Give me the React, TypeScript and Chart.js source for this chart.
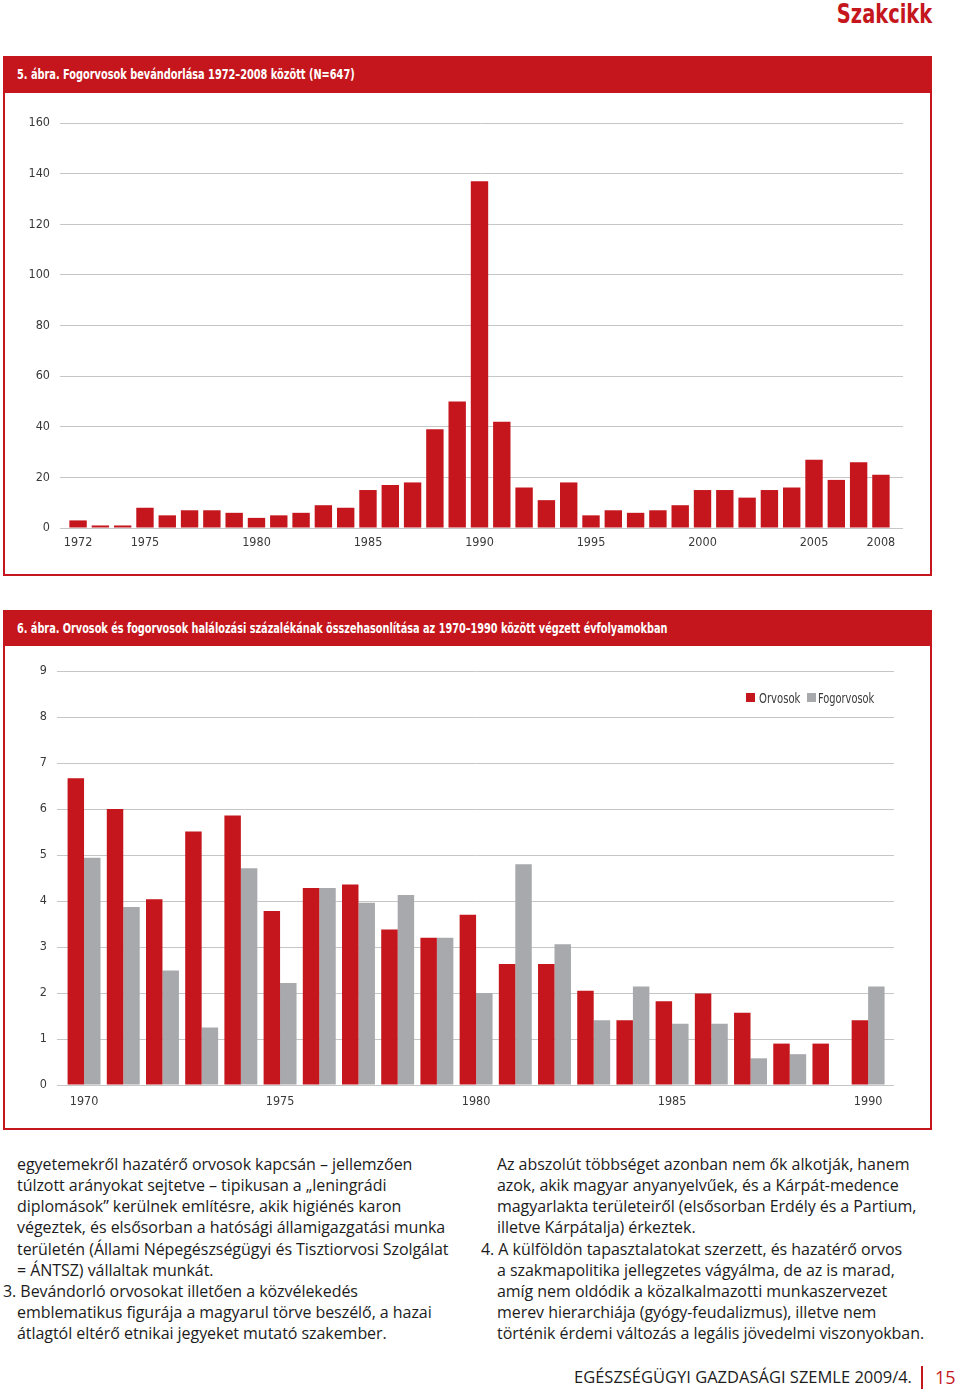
import React, { useEffect, useRef } from "react";
import { Chart, registerables } from "chart.js";

Chart.register(...registerables);

const RED = "#c4161c";
const GREY = "#a7a9ac";
const GRID = "#c6c6c6";
const TICK_COLOR = "#3a3a3a";
const NARROW = '"Liberation Sans Narrow", "DejaVu Sans Condensed", sans-serif';
const BODY = '"Open Sans", "Noto Sans", sans-serif';

// ---- 5. ábra data ----
const immigrationYears = [
  1972, 1973, 1974, 1975, 1976, 1977, 1978, 1979, 1980, 1981, 1982, 1983, 1984,
  1985, 1986, 1987, 1988, 1989, 1990, 1991, 1992, 1993, 1994, 1995, 1996, 1997,
  1998, 1999, 2000, 2001, 2002, 2003, 2004, 2005, 2006, 2007, 2008,
];
const immigrationCounts = [
  3, 1, 1, 8, 5, 7, 7, 6, 4, 5, 6, 9, 8, 15, 17, 18, 39, 50, 137, 42, 16, 11,
  18, 5, 7, 6, 7, 9, 15, 15, 12, 15, 16, 27, 19, 26, 21,
];
const immigrationYearTicks = [1972, 1975, 1980, 1985, 1990, 1995, 2000, 2005, 2008];
const immigrationValueTicks = [0, 20, 40, 60, 80, 100, 120, 140, 160];

// ---- 6. ábra data ----
const cohortYears = [
  1970, 1971, 1972, 1973, 1974, 1975, 1976, 1977, 1978, 1979, 1980, 1981, 1982,
  1983, 1984, 1985, 1986, 1987, 1988, 1989, 1990,
];
const orvosokPct = [
  6.67, 6.0, 4.04, 5.51, 5.86, 3.78, 4.28, 4.36, 3.38, 3.2, 3.7, 2.63, 2.63,
  2.05, 1.41, 1.82, 1.99, 1.57, 0.9, 0.9, 1.41,
];
const fogorvosokPct = [
  4.94, 3.87, 2.49, 1.25, 4.71, 2.22, 4.28, 3.96, 4.13, 3.2, 2.0, 4.8, 3.06,
  1.41, 2.14, 1.33, 1.33, 0.58, 0.67, 0, 2.14,
];
const cohortYearTicks = [1970, 1975, 1980, 1985, 1990];
const cohortValueTicks = [0, 1, 2, 3, 4, 5, 6, 7, 8, 9];

const tickFont = { family: NARROW, size: 12.5 };

function makeImmigrationConfig(): any {
  return {
    type: "bar",
    data: {
      datasets: [
        {
          label: "Fogorvosok",
          data: immigrationYears.map((y, i) => ({ x: y, y: immigrationCounts[i] })),
          backgroundColor: RED,
          borderWidth: 0,
          categoryPercentage: 1,
          barPercentage: 0.78,
        },
      ],
    },
    options: {
      animation: false,
      responsive: false,
      maintainAspectRatio: false,
      layout: { padding: { top: 27, right: 27, left: 0, bottom: 0 } },
      plugins: { legend: { display: false }, tooltip: { enabled: false } },
      scales: {
        x: {
          type: "linear",
          offset: false,
          min: 1971.19,
          max: 2008.99,
          grid: { display: false, drawTicks: false },
          border: { display: false },
          afterBuildTicks: (s: any) => {
            s.ticks = immigrationYearTicks.map((v) => ({ value: v }));
          },
          afterFit: (s: any) => {
            s.height = 44;
          },
          ticks: {
            autoSkip: false,
            maxRotation: 0,
            padding: 7,
            font: tickFont,
            color: TICK_COLOR,
            callback: (v: any) => String(v),
          },
        },
        y: {
          min: 0,
          max: 160,
          grid: { color: GRID, drawTicks: false, lineWidth: 1 },
          border: { display: false },
          afterBuildTicks: (s: any) => {
            s.ticks = immigrationValueTicks.map((v) => ({ value: v }));
          },
          afterFit: (s: any) => {
            s.width = 56;
          },
          ticks: {
            padding: 10,
            font: tickFont,
            color: TICK_COLOR,
            callback: (v: any) => String(v),
          },
        },
      },
    },
  };
}

function makeCohortConfig(): any {
  return {
    type: "bar",
    data: {
      datasets: [
        {
          label: "Orvosok",
          data: cohortYears.map((y, i) => ({ x: y, y: orvosokPct[i] })),
          backgroundColor: RED,
          borderWidth: 0,
          categoryPercentage: 0.84,
          barPercentage: 1,
        },
        {
          label: "Fogorvosok",
          data: cohortYears.map((y, i) => ({ x: y, y: fogorvosokPct[i] })),
          backgroundColor: GREY,
          borderWidth: 0,
          categoryPercentage: 0.84,
          barPercentage: 1,
        },
      ],
    },
    options: {
      animation: false,
      responsive: false,
      maintainAspectRatio: false,
      layout: { padding: { top: 21, right: 36, left: 0, bottom: 0 } },
      plugins: { legend: { display: false }, tooltip: { enabled: false } },
      scales: {
        x: {
          type: "linear",
          offset: false,
          min: 1969.31,
          max: 1990.66,
          grid: { display: false, drawTicks: false },
          border: { display: false },
          afterBuildTicks: (s: any) => {
            s.ticks = cohortYearTicks.map((v) => ({ value: v }));
          },
          afterFit: (s: any) => {
            s.height = 39;
          },
          ticks: {
            autoSkip: false,
            maxRotation: 0,
            padding: 9,
            font: tickFont,
            color: TICK_COLOR,
            callback: (v: any) => String(v),
          },
        },
        y: {
          min: 0,
          max: 9,
          grid: { color: GRID, drawTicks: false, lineWidth: 1 },
          border: { display: false },
          afterBuildTicks: (s: any) => {
            s.ticks = cohortValueTicks.map((v) => ({ value: v }));
          },
          afterFit: (s: any) => {
            s.width = 53;
          },
          ticks: {
            padding: 10,
            font: tickFont,
            color: TICK_COLOR,
            callback: (v: any) => String(v),
          },
        },
      },
    },
  };
}

function ChartCanvas(props: { left: number; top: number; width: number; height: number; make: () => any }) {
  const ref = useRef<HTMLCanvasElement | null>(null);
  useEffect(() => {
    if (!ref.current) return;
    const chart = new Chart(ref.current, props.make());
    return () => chart.destroy();
  }, []);
  return (
    <canvas
      ref={ref}
      width={props.width}
      height={props.height}
      style={{ position: "absolute", left: props.left, top: props.top, width: props.width, height: props.height }}
    />
  );
}

const leftLines: { text: string; x: number }[] = [
  { text: "egyetemekről hazatérő orvosok kapcsán – jellemzően", x: 17 },
  { text: "túlzott arányokat sejtetve – tipikusan a „leningrádi", x: 17 },
  { text: "diplomások” kerülnek említésre, akik higiénés karon", x: 17 },
  { text: "végeztek, és elsősorban a hatósági államigazgatási munka", x: 17 },
  { text: "területén (Állami Népegészségügyi és Tisztiorvosi Szolgálat", x: 17 },
  { text: "= ÁNTSZ) vállaltak munkát.", x: 17 },
  { text: "3. Bevándorló orvosokat illetően a közvélekedés", x: 3 },
  { text: "emblematikus figurája a magyarul törve beszélő, a hazai", x: 17 },
  { text: "átlagtól eltérő etnikai jegyeket mutató szakember.", x: 17 },
];
const rightLines: { text: string; x: number }[] = [
  { text: "Az abszolút többséget azonban nem ők alkotják, hanem", x: 497 },
  { text: "azok, akik magyar anyanyelvűek, és a Kárpát-medence", x: 497 },
  { text: "magyarlakta területeiről (elsősorban Erdély és a Partium,", x: 497 },
  { text: "illetve Kárpátalja) érkeztek.", x: 497 },
  { text: "4. A külföldön tapasztalatokat szerzett, és hazatérő orvos", x: 481 },
  { text: "a szakmapolitika jellegzetes vágyálma, de az is marad,", x: 497 },
  { text: "amíg nem oldódik a közalkalmazotti munkaszervezet", x: 497 },
  { text: "merev hierarchiája (gyógy-feudalizmus), illetve nem", x: 497 },
  { text: "történik érdemi változás a legális jövedelmi viszonyokban.", x: 497 },
];

const LINE_TOP = 1154;
const LINE_H = 21.15;

function TextLine({ text, x, y }: { text: string; x: number; y: number }) {
  return (
    <div
      style={{
        position: "absolute",
        left: x,
        top: y,
        height: LINE_H,
        lineHeight: LINE_H + "px",
        whiteSpace: "nowrap",
        fontFamily: BODY,
        fontSize: 16,
        letterSpacing: -0.05,
        color: "#1c1c1c",
      }}
    >
      {text}
    </div>
  );
}

const squeeze = (s: number, origin = "left center"): React.CSSProperties => ({
  transform: `scaleX(${s})`,
  transformOrigin: origin,
});

export default function App() {
  return (
    <div
      style={{
        position: "absolute",
        left: 0,
        top: 0,
        width: 960,
        height: 1395,
        background: "#ffffff",
        overflow: "hidden",
      }}
    >
      <div
        style={{
          position: "absolute",
          right: 28,
          top: -2,
          fontFamily: NARROW,
          fontWeight: 700,
          fontSize: 27,
          color: RED,
          lineHeight: "32px",
          whiteSpace: "nowrap",
          ...squeeze(0.8, "right center"),
        }}
      >
        Szakcikk
      </div>

      {/* Frame 5 */}
      <div
        style={{
          position: "absolute",
          left: 3,
          top: 56,
          width: 929,
          height: 520,
          border: `2px solid ${RED}`,
          boxSizing: "border-box",
        }}
      />
      <div style={{ position: "absolute", left: 3, top: 56, width: 929, height: 37, background: RED }} />
      <div
        style={{
          position: "absolute",
          left: 17,
          top: 56,
          height: 37,
          lineHeight: "37px",
          color: "#ffffff",
          fontFamily: NARROW,
          fontWeight: 700,
          fontSize: 14.5,
          whiteSpace: "nowrap",
          ...squeeze(0.75),
        }}
      >
        5. ábra. Fogorvosok bevándorlása 1972–2008 között (N=647)
      </div>
      <ChartCanvas left={4} top={96} width={926} height={476} make={makeImmigrationConfig} />

      {/* Frame 6 */}
      <div
        style={{
          position: "absolute",
          left: 3,
          top: 610,
          width: 929,
          height: 520,
          border: `2px solid ${RED}`,
          boxSizing: "border-box",
        }}
      />
      <div style={{ position: "absolute", left: 3, top: 610, width: 929, height: 36, background: RED }} />
      <div
        style={{
          position: "absolute",
          left: 17,
          top: 610,
          height: 36,
          lineHeight: "36px",
          color: "#ffffff",
          fontFamily: NARROW,
          fontWeight: 700,
          fontSize: 14.5,
          whiteSpace: "nowrap",
          ...squeeze(0.745),
        }}
      >
        6. ábra. Orvosok és fogorvosok halálozási százalékának összehasonlítása az 1970–1990 között végzett évfolyamokban
      </div>
      <ChartCanvas left={4} top={650} width={926} height={474} make={makeCohortConfig} />

      {/* Legend for 6. ábra */}
      <div style={{ position: "absolute", left: 746, top: 693, width: 9, height: 9, background: RED }} />
      <div
        style={{
          position: "absolute",
          left: 759,
          top: 689,
          lineHeight: "18px",
          fontFamily: NARROW,
          fontSize: 13.5,
          color: TICK_COLOR,
          whiteSpace: "nowrap",
          ...squeeze(0.83),
        }}
      >
        Orvosok
      </div>
      <div style={{ position: "absolute", left: 807, top: 693, width: 9, height: 9, background: GREY }} />
      <div
        style={{
          position: "absolute",
          left: 818,
          top: 689,
          lineHeight: "18px",
          fontFamily: NARROW,
          fontSize: 13.5,
          color: TICK_COLOR,
          whiteSpace: "nowrap",
          ...squeeze(0.81),
        }}
      >
        Fogorvosok
      </div>

      {/* Body text */}
      {leftLines.map((l, i) => (
        <TextLine key={"l" + i} text={l.text} x={l.x} y={LINE_TOP + i * LINE_H} />
      ))}
      {rightLines.map((l, i) => (
        <TextLine key={"r" + i} text={l.text} x={l.x} y={LINE_TOP + i * LINE_H} />
      ))}

      {/* Footer */}
      <div
        style={{
          position: "absolute",
          left: 574,
          top: 1365,
          lineHeight: "24px",
          fontFamily: BODY,
          fontSize: 16.5,
          color: "#1c1c1c",
          whiteSpace: "nowrap",
        }}
      >
        EGÉSZSÉGÜGYI GAZDASÁGI SZEMLE 2009/4.
      </div>
      <div style={{ position: "absolute", left: 921, top: 1366, width: 2, height: 23, background: RED }} />
      <div
        style={{
          position: "absolute",
          left: 935,
          top: 1365,
          lineHeight: "24px",
          fontFamily: BODY,
          fontSize: 18,
          color: RED,
          whiteSpace: "nowrap",
        }}
      >
        15
      </div>
    </div>
  );
}
